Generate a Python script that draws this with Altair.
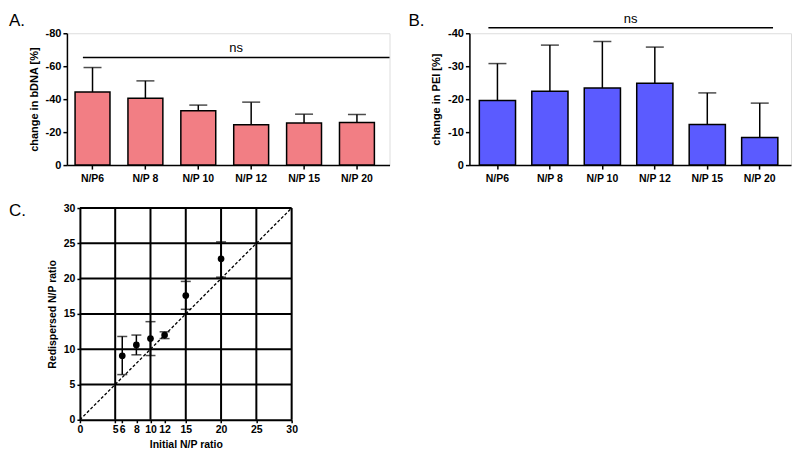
import altair as alt
import pandas as pd

# ---------------- data ----------------
categories = ["N/P6", "N/P 8", "N/P 10", "N/P 12", "N/P 15", "N/P 20"]
bdna_mean = [-44.4, -40.6, -32.9, -24.4, -25.5, -25.9]
bdna_top = [-59.2, -51.1, -36.4, -38.2, -30.9, -30.7]
pei_mean = [-19.6, -22.4, -23.4, -24.8, -12.3, -8.4]
pei_top = [-30.8, -36.4, -37.5, -35.8, -21.9, -18.8]
ns_a_level = [-65.3]
ns_b_level = [-41.7]

c_x = [6, 8, 10, 12, 15, 20]
c_y = [9.07, 10.6, 11.5, 12.0, 17.6, 22.8]
c_lo = [6.4, 9.2, 9.1, 11.5, 15.65, 20.2]
c_hi = [11.8, 12.0, 13.9, 12.46, 19.6, 25.2]
grid_vals = [5, 10, 15, 20, 25, 30]
diag = [0, 30]
c_xticks = [0, 5, 6, 8, 10, 12, 15, 20, 25, 30]
c_yticks = [0, 5, 10, 15, 20, 25, 30]

FONT = "Liberation Sans"
LETTER_FONT = "Liberation Sans"


def bar_panel(means, tops, color, ymin, ytitle, yvals, letter, ns_level,
              ns_x1, ns_x2, W, H, pad_inner, pad_outer, align, letter_dx):
    df = pd.DataFrame({"cat": categories, "mean": means, "top": tops})
    xscale = alt.Scale(paddingInner=pad_inner, paddingOuter=pad_outer, align=align)
    xaxis = alt.Axis(labelAngle=0, labelFont=FONT, labelFontWeight="bold",
                     labelFontSize=10.5, labelColor="black", domainColor="black",
                     domainWidth=1.5, tickColor="black", tickSize=4, tickWidth=1.5,
                     labelPadding=4, labelOverlap=False)
    yscale = alt.Scale(domain=[ymin, 0], reverse=True, nice=False)
    yaxis = alt.Axis(values=yvals, labelOverlap=False,
                     labelExpr="datum.value == 0 ? '0' : '-' + abs(datum.value)",
                     labelFont=FONT, labelFontWeight="bold", labelFontSize=11,
                     labelColor="black", titleFont=FONT, titleFontWeight="bold",
                     titleFontSize=11, titleColor="black", domainColor="black",
                     domainWidth=1.5, tickColor="black", tickSize=4, tickWidth=1.5,
                     grid=False, titlePadding=6, labelPadding=2)
    xs = alt.X("cat:N", sort=categories, title=None, scale=xscale, axis=xaxis)
    ys = alt.Y("mean:Q", title=ytitle, scale=yscale, axis=yaxis)
    ytop = alt.Y("top:Q", title=ytitle, scale=yscale, axis=yaxis)
    base = alt.Chart(df)
    stem = base.mark_rule(color="black", strokeWidth=1.5).encode(x=xs, y=ys, y2="top:Q")
    cap = base.mark_tick(color="black", size=18, thickness=1.5).encode(x=xs, y=ytop)
    bars = base.mark_bar(color=color, stroke="black", strokeWidth=1.5).encode(x=xs, y=ys)
    nsdf = pd.DataFrame({"lvl": ns_level, "t": ["ns"]})
    ylvl = alt.Y("lvl:Q", title=ytitle, scale=yscale, axis=yaxis)
    ns_line = alt.Chart(nsdf).mark_rule(color="black", strokeWidth=1.5).encode(
        x=alt.value(ns_x1), x2=alt.value(ns_x2), y=ylvl)
    ns_text = alt.Chart(nsdf).mark_text(font=FONT, fontSize=13, baseline="bottom", dy=-2,
                                        color="black").encode(
        x=alt.value((ns_x1 + ns_x2) / 2), y=ylvl, text="t:N")
    lab = alt.Chart(pd.DataFrame({"t": [letter]})).mark_text(
        font=LETTER_FONT, fontSize=17, align="left", baseline="alphabetic",
        color="black").encode(x=alt.value(letter_dx), y=alt.value(-7), text="t:N")
    return alt.layer(stem, cap, bars, ns_line, ns_text, lab).properties(width=W, height=H)


panel_a = bar_panel(bdna_mean, bdna_top, "#F27E84", -80, "change in bDNA [%]",
                    [0, -20, -40, -60, -80], "A.", ns_a_level, 16, 323, 323, 132,
                    0.34, 0.22, 0.35, -58)
panel_b = bar_panel(pei_mean, pei_top, "#5B5BFF", -40, "change in PEI [%]",
                    [0, -10, -20, -30, -40], "B.", ns_b_level, 19, 304, 322, 132,
                    0.31, 0.22, 0.43, -61)

# ---------------- panel C ----------------
cdf = pd.DataFrame({"x": c_x, "y": c_y, "lo": c_lo, "hi": c_hi})
sx = alt.Scale(domain=[0, 30], nice=False)
sy = alt.Scale(domain=[0, 30], nice=False)
ax_x = alt.Axis(values=c_xticks, labelOverlap=False, labelFlush=False, grid=False,
                labelFont=FONT, labelFontWeight="bold", labelFontSize=10.5,
                labelColor="black", titleFont=FONT, titleFontWeight="bold",
                titleFontSize=10.5, titleColor="black", domainColor="black",
                domainWidth=2, tickColor="black", tickSize=3, tickWidth=1.5,
                titlePadding=4, labelPadding=2)
ax_y = alt.Axis(values=c_yticks, labelOverlap=False, labelFlush=False, grid=False,
                labelFont=FONT, labelFontWeight="bold", labelFontSize=10.5,
                labelColor="black", titleFont=FONT, titleFontWeight="bold",
                titleFontSize=10.5, titleColor="black", domainColor="black",
                domainWidth=2, tickColor="black", tickSize=3, tickWidth=1.5,
                titlePadding=6, labelPadding=2)
XT = "Initial N/P ratio"
YT = "Redispersed N/P ratio"

gdf = pd.DataFrame({"g": grid_vals})
vgrid = alt.Chart(gdf).mark_rule(color="black", strokeWidth=2).encode(
    x=alt.X("g:Q", scale=sx, axis=ax_x, title=XT), y=alt.value(0), y2=alt.value(212))
hgrid = alt.Chart(gdf).mark_rule(color="black", strokeWidth=2).encode(
    y=alt.Y("g:Q", scale=sy, axis=ax_y, title=YT), x=alt.value(0), x2=alt.value(212))
ddf = pd.DataFrame({"d": diag})
dline = alt.Chart(ddf).mark_line(color="black", strokeWidth=1.3, strokeDash=[3, 2]).encode(
    x=alt.X("d:Q", scale=sx, axis=ax_x, title=XT),
    y=alt.Y("d:Q", scale=sy, axis=ax_y, title=YT))
cbase = alt.Chart(cdf)
err = cbase.mark_rule(color="black", strokeWidth=1.5).encode(
    x=alt.X("x:Q", scale=sx, axis=ax_x, title=XT),
    y=alt.Y("lo:Q", scale=sy, axis=ax_y, title=YT), y2="hi:Q")
cap_hi = cbase.mark_tick(color="black", size=10, thickness=1.5, orient="horizontal").encode(
    x=alt.X("x:Q", scale=sx, axis=ax_x, title=XT),
    y=alt.Y("hi:Q", scale=sy, axis=ax_y, title=YT))
cap_lo = cbase.mark_tick(color="black", size=10, thickness=1.5, orient="horizontal").encode(
    x=alt.X("x:Q", scale=sx, axis=ax_x, title=XT),
    y=alt.Y("lo:Q", scale=sy, axis=ax_y, title=YT))
pts = cbase.mark_circle(color="black", size=45, opacity=1).encode(
    x=alt.X("x:Q", scale=sx, axis=ax_x, title=XT),
    y=alt.Y("y:Q", scale=sy, axis=ax_y, title=YT))
clab = alt.Chart(pd.DataFrame({"t": ["C."]})).mark_text(
    font=LETTER_FONT, fontSize=17, align="left", baseline="alphabetic",
    color="black").encode(x=alt.value(-71), y=alt.value(8), text="t:N")

panel_c = alt.layer(vgrid, hgrid, dline, err, cap_hi, cap_lo, pts, clab).properties(
    width=212, height=212)

spacer = alt.Chart(pd.DataFrame({"a": [0]})).mark_point(opacity=0).properties(
    width=13, height=212)

chart = alt.vconcat(
    alt.hconcat(panel_a, panel_b, spacing=80, bounds="flush"),
    alt.hconcat(spacer, panel_c, spacing=0, bounds="flush"),
    spacing=17,
).properties(padding={"top": 3, "left": 0, "right": 0, "bottom": 0}).configure_view(
    stroke=None).configure(background="white")

chart.save("out.html", embed_options={"renderer": "svg", "actions": False})
